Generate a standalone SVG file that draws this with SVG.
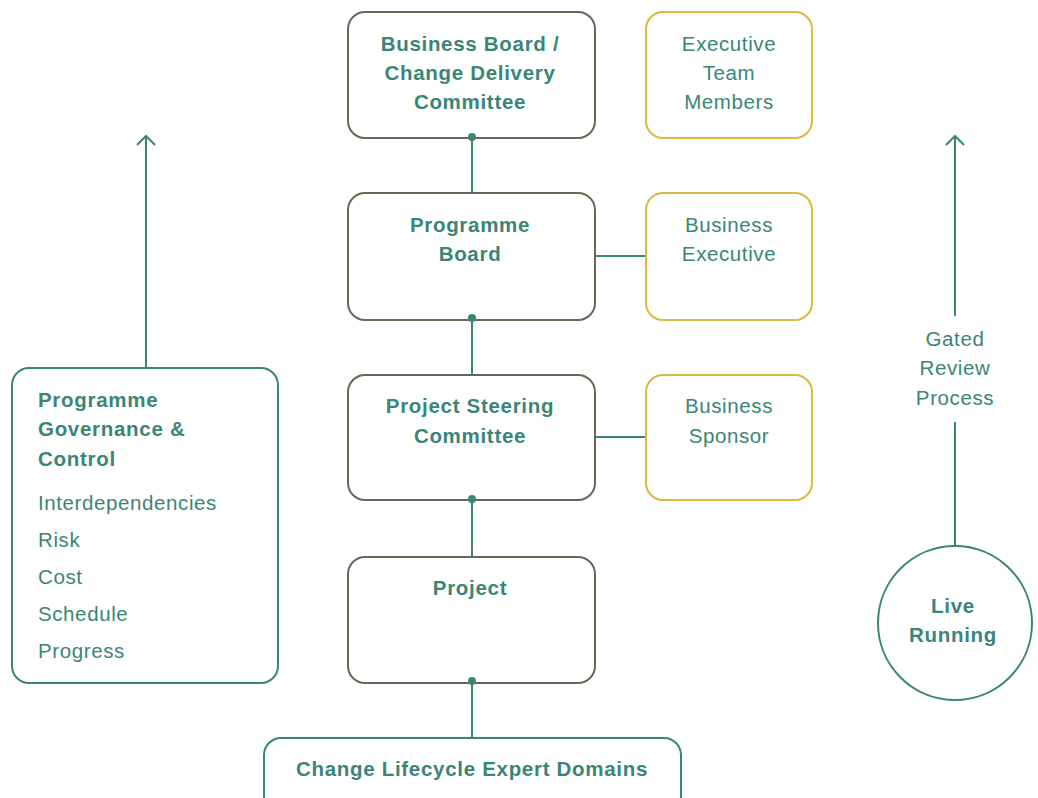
<svg xmlns="http://www.w3.org/2000/svg" width="1038" height="798" viewBox="0 0 1038 798">
  <defs>
    <style>
      .box { fill: #ffffff; stroke: #6b6655; stroke-width: 2; }
      .side { fill: #ffffff; stroke: #dcb93e; stroke-width: 2; }
      .teal { fill: #ffffff; stroke: #3b8577; stroke-width: 2; }
      .line { fill: none; stroke: #3b8577; stroke-width: 2; }
      .dot { fill: #3b8577; }
      text { font-family: "Liberation Sans", Arial, sans-serif; font-size: 20.5px; letter-spacing: 0.6px; fill: #3b8577; }
      .b { font-weight: bold; letter-spacing: 0.7px; }
      .c { text-anchor: middle; }
    </style>
    <!-- open chevron pointing along the path direction -->
    <marker id="open-arrow" viewBox="0 0 20 20" refX="11" refY="10" markerWidth="20" markerHeight="20" markerUnits="userSpaceOnUse" orient="auto">
      <path d="M2 1 L11 10 L2 19" fill="none" stroke="#3b8577" stroke-width="2"/>
    </marker>
  </defs>

  <g id="business-board">
    <rect class="box" x="348" y="12" width="247" height="126" rx="17"/>
    <text class="b c" x="470" y="51">Business Board /</text>
    <text class="b c" x="470" y="80">Change Delivery</text>
    <text class="b c" x="470" y="109">Committee</text>
  </g>

  <g id="executive-team">
    <rect class="side" x="646" y="12" width="166" height="126" rx="17"/>
    <text class="c" x="729" y="51">Executive</text>
    <text class="c" x="729" y="80">Team</text>
    <text class="c" x="729" y="109">Members</text>
  </g>

  <g id="programme-board">
    <rect class="box" x="348" y="193" width="247" height="127" rx="17"/>
    <text class="b c" x="470" y="232">Programme</text>
    <text class="b c" x="470" y="261">Board</text>
  </g>

  <g id="business-executive">
    <rect class="side" x="646" y="193" width="166" height="127" rx="17"/>
    <text class="c" x="729" y="232">Business</text>
    <text class="c" x="729" y="261">Executive</text>
  </g>

  <g id="project-steering">
    <rect class="box" x="348" y="375" width="247" height="125" rx="17"/>
    <text class="b c" x="470" y="413">Project Steering</text>
    <text class="b c" x="470" y="443">Committee</text>
  </g>

  <g id="business-sponsor">
    <rect class="side" x="646" y="375" width="166" height="125" rx="17"/>
    <text class="c" x="729" y="413">Business</text>
    <text class="c" x="729" y="443">Sponsor</text>
  </g>

  <g id="project">
    <rect class="box" x="348" y="557" width="247" height="126" rx="17"/>
    <text class="b c" x="470" y="595">Project</text>
  </g>

  <g id="expert-domains">
    <rect class="teal" x="264" y="738" width="417" height="80" rx="17"/>
    <text class="b c" x="472" y="776">Change Lifecycle Expert Domains</text>
  </g>

  <g id="governance">
    <rect class="teal" x="12" y="368" width="266" height="315" rx="17"/>
    <text class="b" x="38" y="407">Programme</text>
    <text class="b" x="38" y="436">Governance &amp;</text>
    <text class="b" x="38" y="466">Control</text>
    <text x="38" y="510">Interdependencies</text>
    <text x="38" y="547">Risk</text>
    <text x="38" y="584">Cost</text>
    <text x="38" y="621">Schedule</text>
    <text x="38" y="658">Progress</text>
  </g>

  <g id="gated-review">
    <text class="c" x="955" y="346">Gated</text>
    <text class="c" x="955" y="375">Review</text>
    <text class="c" x="955" y="405">Process</text>
  </g>

  <g id="live-running">
    <circle class="teal" cx="955" cy="623" r="77"/>
    <text class="b c" x="953" y="613">Live</text>
    <text class="b c" x="953" y="642">Running</text>
  </g>

  <!-- connectors, drawn last so the joint dots sit on the box edges -->
  <g id="connectors">
    <line class="line" x1="472" y1="137" x2="472" y2="193"/>
    <line class="line" x1="472" y1="318" x2="472" y2="375"/>
    <line class="line" x1="472" y1="499" x2="472" y2="557"/>
    <line class="line" x1="472" y1="681" x2="472" y2="737"/>
    <line class="line" x1="596" y1="256" x2="645" y2="256"/>
    <line class="line" x1="596" y1="437" x2="645" y2="437"/>
    <line class="line" x1="146" y1="367" x2="146" y2="136" marker-end="url(#open-arrow)"/>
    <line class="line" x1="955" y1="316" x2="955" y2="136" marker-end="url(#open-arrow)"/>
    <line class="line" x1="955" y1="422" x2="955" y2="546"/>
    <circle class="dot" cx="472" cy="137" r="4"/>
    <circle class="dot" cx="472" cy="318" r="4"/>
    <circle class="dot" cx="472" cy="499" r="4"/>
    <circle class="dot" cx="472" cy="681" r="4"/>
  </g>
</svg>
